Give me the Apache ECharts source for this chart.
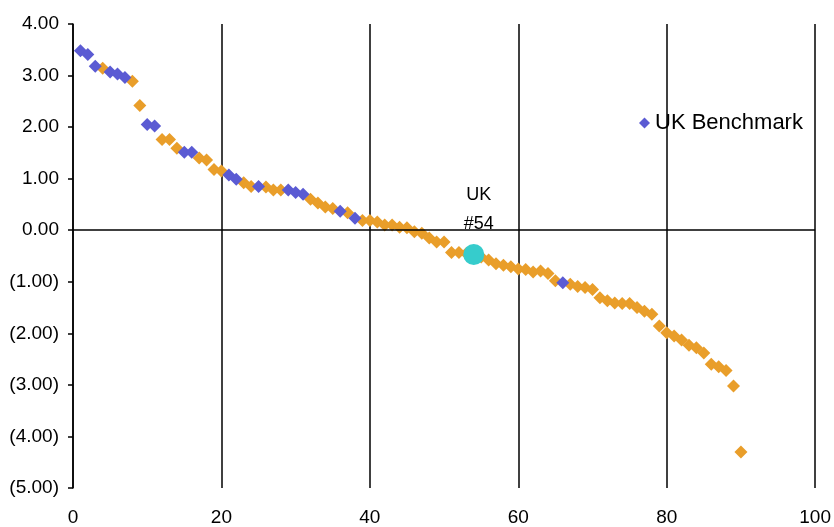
<!DOCTYPE html>
<html>
<head>
<meta charset="utf-8">
<script src="https://cdn.jsdelivr.net/npm/echarts@6/dist/echarts.min.js"></script>
<style>html,body{margin:0;padding:0;background:#fff;}#c{width:834px;height:527px;}</style>
</head>
<body>
<div id="c"></div>
<script>
// Rank 1..90 values
const ranks = [1,2,3,4,5,6,7,8,9,10,11,12,13,14,15,16,17,18,19,20,21,22,23,24,25,26,27,28,29,30,31,32,33,34,35,36,37,38,39,40,41,42,43,44,45,46,47,48,49,50,51,52,53,54,55,56,57,58,59,60,61,62,63,64,65,66,67,68,69,70,71,72,73,74,75,76,77,78,79,80,81,82,83,84,85,86,87,88,89,90];
const values = [3.48,3.41,3.18,3.14,3.07,3.03,2.96,2.89,2.42,2.05,2.02,1.76,1.76,1.59,1.51,1.51,1.40,1.36,1.18,1.15,1.07,0.99,0.92,0.85,0.85,0.84,0.78,0.78,0.78,0.73,0.70,0.60,0.53,0.45,0.42,0.37,0.34,0.23,0.19,0.19,0.16,0.10,0.10,0.06,0.05,-0.03,-0.06,-0.15,-0.23,-0.23,-0.43,-0.43,-0.45,-0.47,-0.52,-0.58,-0.65,-0.68,-0.71,-0.75,-0.76,-0.81,-0.79,-0.84,-0.98,-1.02,-1.05,-1.09,-1.11,-1.15,-1.31,-1.37,-1.41,-1.42,-1.42,-1.50,-1.57,-1.63,-1.86,-1.99,-2.05,-2.13,-2.23,-2.28,-2.38,-2.60,-2.65,-2.72,-3.02,-4.30];
const benchmarkRanks = [1,2,3,5,6,7,10,11,15,16,21,22,25,29,30,31,36,38,66];
const ukRank = 54;
const ukLabel = 'UK\n#54';
const legendName = 'UK Benchmark';
const xTicks = {min: 0, max: 100, interval: 20};
const yTicks = {min: -5, max: 4, interval: 1};

const benchData = [], otherData = [], ukData = [];
ranks.forEach((r, i) => {
  if (r === ukRank) ukData.push([r, values[i]]);
  else if (benchmarkRanks.indexOf(r) >= 0) benchData.push([r, values[i]]);
  else otherData.push([r, values[i]]);
});

const font = '"Liberation Sans", Arial, sans-serif';
const chart = echarts.init(document.getElementById('c'));
chart.setOption({
  animation: false,
  backgroundColor: '#fff',
  grid: {left: 73, right: 17, top: 24, bottom: 39},
  legend: {
    data: [{name: legendName, icon: 'diamond'}],
    left: 634, top: 107, itemWidth: 11, itemHeight: 11, itemGap: 5,
    textStyle: {fontFamily: font, fontSize: 22, color: '#000'}
  },
  xAxis: {
    type: 'value', min: xTicks.min, max: xTicks.max, interval: xTicks.interval,
    axisLine: {show: false}, axisTick: {show: false},
    axisLabel: {color: '#000', fontFamily: font, fontSize: 19, margin: 20},
    splitLine: {show: true, lineStyle: {color: '#000', width: 1.5}}
  },
  yAxis: {
    type: 'value', min: yTicks.min, max: yTicks.max, interval: yTicks.interval,
    axisLine: {show: true, lineStyle: {color: '#000', width: 1.5}},
    axisTick: {show: true, inside: false, length: 5, lineStyle: {color: '#000', width: 1.5}},
    axisLabel: {color: '#000', fontFamily: font, fontSize: 19, margin: 14,
      formatter: v => v < 0 ? '(' + Math.abs(v).toFixed(2) + ')' : v.toFixed(2)},
    splitLine: {show: false}
  },
  series: [
    {
      name: 'Others', type: 'scatter', symbol: 'diamond', symbolSize: 13,
      itemStyle: {color: '#E99E2A', opacity: 1}, data: otherData, z: 2,
      markLine: {silent: true, symbol: 'none', label: {show: false},
        lineStyle: {color: '#000', width: 1.5, type: 'solid'}, data: [{yAxis: 0}]}
    },
    {
      name: legendName, type: 'scatter', symbol: 'diamond', symbolSize: 13,
      itemStyle: {color: '#5B5BD3', opacity: 1}, data: benchData, z: 3
    },
    {
      name: 'UK', type: 'scatter', symbol: 'circle', symbolSize: 21,
      itemStyle: {color: '#36CCCC', opacity: 1}, data: ukData, z: 4,
      label: {show: true, position: 'top', distance: 5, offset: [5, 0],
        formatter: ukLabel, color: '#000', fontFamily: font, fontSize: 18, lineHeight: 29}
    }
  ]
});
</script>
</body>
</html>
